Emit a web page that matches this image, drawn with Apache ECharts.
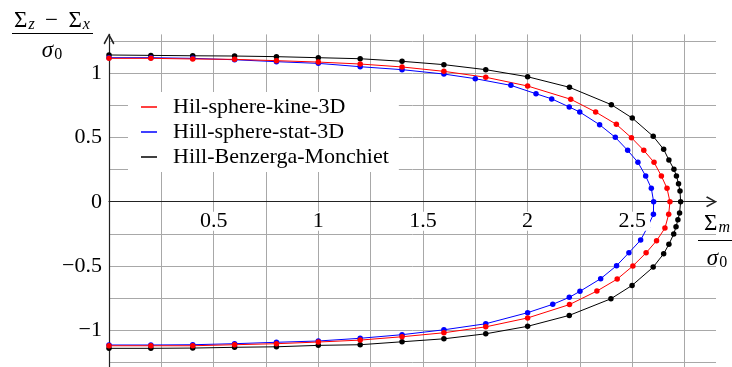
<!DOCTYPE html>
<html>
<head>
	<meta charset="utf-8"/>
	<title>Hill yield surfaces</title>
	<style>
		* {
			margin: 0;
			padding: 0;
		}
		html, body {
			background: #fff;
		}
		#main {
			width: 732px;
			height: 367px;
		}
	</style>
</head>
<body>

	<div id="main"></div>

	<script src="https://cdn.jsdelivr.net/npm/echarts@6/dist/echarts.min.js"></script>
	<script>
		// series names (legend order)
		var names = ['Hil-sphere-kine-3D', 'Hill-sphere-stat-3D', 'Hill-Benzerga-Monchiet'];

		// Hil-sphere-kine-3D (red)
		var kineX = [0, 0.2, 0.4, 0.6, 0.8, 1.0, 1.2, 1.4, 1.6, 1.8, 2.0, 2.206, 2.325, 2.424, 2.496, 2.555, 2.604, 2.639, 2.666, 2.68,
			2.674, 2.656, 2.616, 2.566, 2.503, 2.428, 2.331, 2.2, 2.0, 1.8, 1.6, 1.4, 1.2, 1.0, 0.8, 0.6, 0.4, 0.2, 0];
		var kineY = [1.114, 1.114, 1.109, 1.106, 1.096, 1.085, 1.070, 1.047, 1.013, 0.967, 0.899, 0.796, 0.697, 0.601, 0.497, 0.399, 0.306, 0.2, 0.104, 0,
			-0.098, -0.205, -0.303, -0.397, -0.499, -0.601, -0.694, -0.799, -0.903, -0.972, -1.018, -1.049, -1.075, -1.090, -1.103, -1.111, -1.119, -1.119, -1.119];

		// Hill-sphere-stat-3D (blue)
		var statX = [0, 0.2, 0.4, 0.6, 0.8, 1.0, 1.2, 1.4, 1.6, 1.75, 1.92, 2.04, 2.115, 2.199, 2.249, 2.344, 2.419, 2.478, 2.527, 2.564, 2.591, 2.602,
			2.601, 2.572, 2.54, 2.484, 2.425, 2.349, 2.25, 2.199, 2.12, 2.0, 1.8, 1.6, 1.4, 1.2, 1.0, 0.8, 0.6, 0.4, 0.2, 0];
		var statY = [1.119, 1.119, 1.114, 1.103, 1.088, 1.075, 1.049, 1.026, 0.992, 0.956, 0.904, 0.839, 0.799, 0.736, 0.697, 0.598, 0.5, 0.399, 0.306, 0.2, 0.104, 0,
			-0.098, -0.2, -0.298, -0.396, -0.497, -0.598, -0.696, -0.743, -0.797, -0.862, -0.948, -0.995, -1.033, -1.061, -1.082, -1.092, -1.103, -1.111, -1.113, -1.113];

		// Hill-Benzerga-Monchiet (black)
		var hbmX = [0, 0.2, 0.4, 0.6, 0.8, 1.0, 1.2, 1.4, 1.6, 1.8, 2.0, 2.2, 2.4, 2.5, 2.6, 2.65, 2.675, 2.699, 2.711, 2.721, 2.728, 2.731,
			2.726, 2.718, 2.709, 2.698, 2.675, 2.65, 2.6, 2.499, 2.398, 2.199, 2.0, 1.8, 1.6, 1.4, 1.2, 1.0, 0.8, 0.6, 0.4, 0.2, 0];
		var hbmY = [1.14, 1.137, 1.134, 1.132, 1.127, 1.119, 1.111, 1.091, 1.065, 1.026, 0.971, 0.889, 0.754, 0.65, 0.508, 0.407, 0.324, 0.252, 0.2, 0.14, 0.083, 0,
			-0.088, -0.14, -0.194, -0.251, -0.331, -0.404, -0.508, -0.65, -0.754, -0.883, -0.968, -1.026, -1.065, -1.088, -1.111, -1.116, -1.127, -1.131, -1.137, -1.139, -1.139];

		// axis ranges
		var xMin = 0, xMax = 2.9;
		var yMin = -1.5, yMax = 1.3;   // bottom part runs off the canvas like the original

		var gridTop = 34.4, gridBottom = -27.8;
		// distance from the grid's bottom edge up to y = 0, for the label-only x axis
		var gridH = 367 - gridTop - gridBottom;
		var zeroOffset = -gridH * (0 - yMin) / (yMax - yMin);

		var serif = '"Liberation Serif", "DejaVu Serif", serif';
		var fs = 22;
		var arrow = 'path://M5,0 L10,9 L8.8,10 L5,2.6 L1.2,10 L0,9 Z';

		function zip(xs, ys) {
			return xs.map(function (x, i) { return [x, ys[i]]; });
		}

		function halfLabel(v) {
			if (Math.abs(v * 2 - Math.round(v * 2)) > 1e-6) return '';
			return String(v).replace('-', '\u2212');
		}

		var myChart = echarts.init(document.getElementById('main'), null, { renderer: 'canvas' });

		function curve(name, xs, ys, color) {
			return {
				name: name,
				type: 'line',
				data: zip(xs, ys),
				symbol: 'circle',
				symbolSize: 5.5,
				showAllSymbol: true,
				clip: false,
				color: color,
				lineStyle: { color: color, width: 1 },
				itemStyle: { color: color },
				emphasis: { disabled: true }
			};
		}

		// a stacked fraction label: numerator / bar / denominator
		function fracText(x, y, text, rich) {
			return {
				type: 'text', x: x, y: y,
				style: { text: text, align: 'center', verticalAlign: 'middle', rich: rich }
			};
		}

		var numRich = {
			m: { fontFamily: serif, fontSize: 23, fill: '#000' },
			s: { fontFamily: serif, fontSize: 16, fontStyle: 'italic', fill: '#000', padding: [7, 0, 0, 1] }
		};
		var denRich = {
			i: { fontFamily: serif, fontSize: 23, fontStyle: 'italic', fill: '#000' },
			s: { fontFamily: serif, fontSize: 16, fill: '#000', padding: [7, 0, 0, 1] }
		};

		var option = {
			animation: false,
			backgroundColor: '#fff',
			grid: {
				left: 109,
				right: 16,
				top: gridTop,
				bottom: gridBottom,
				outerBoundsMode: 'none'
			},
			xAxis: [{
				type: 'value',
				min: xMin,
				max: xMax,
				interval: 0.25,
				axisLine: {
					onZero: true,
					symbol: ['none', arrow],
					symbolSize: [11, 11],
					symbolOffset: [0, -4.5],
					lineStyle: { color: '#222', width: 1.2 }
				},
				axisTick: { show: false },
				axisLabel: { show: false },
				splitLine: { show: true, showMaxLine: false, lineStyle: { color: '#a8a8a8', width: 1 } }
			}, {
				// labels only, with white boxes like the original
				type: 'value',
				position: 'bottom',
				offset: zeroOffset,
				min: xMin,
				max: xMax,
				interval: 0.5,
				z: 5,
				axisLine: { show: false, onZero: false },
				axisTick: { show: false },
				splitLine: { show: false },
				axisLabel: {
					showMinLabel: false,
					showMaxLabel: false,
					margin: 10,
					color: '#000',
					fontFamily: serif,
					fontSize: fs,
					lineHeight: 19,
					backgroundColor: '#fff',
					padding: [0, 4]
				}
			}],
			yAxis: {
				type: 'value',
				min: yMin,
				max: yMax,
				interval: 0.25,
				axisLine: {
					onZero: true,
					symbol: ['none', arrow],
					symbolSize: [11, 11],
					symbolOffset: [0, -4.5],
					lineStyle: { color: '#222', width: 1.2 }
				},
				axisTick: { show: false },
				axisLabel: {
					margin: 7,
					color: '#000',
					fontFamily: serif,
					fontSize: fs,
					formatter: function (v) {
						if (v < -1.1 || v > 1.2) return '';
						return halfLabel(v);
					}
				},
				splitLine: { show: true, showMaxLine: false, lineStyle: { color: '#a8a8a8', width: 1 } }
			},
			legend: {
				data: names,
				orient: 'vertical',
				left: 128,
				top: 92,
				backgroundColor: '#fff',
				padding: [4, 10, 4, 13],
				itemGap: 3,
				itemWidth: 16,
				itemHeight: 1.5,
				icon: 'rect',
				selectedMode: false,
				textStyle: { fontFamily: serif, fontSize: fs, color: '#000', padding: [0, 0, 0, 11] }
			},
			graphic: [
				// y title: (Σz − Σx) / σ0
				fracText(52, 21, '{m|Σ}{s|z}{m| \u2009−\u2009 Σ}{s|x}', numRich),
				{ type: 'line', shape: { x1: 12, y1: 33.5, x2: 93, y2: 33.5 }, style: { stroke: '#000', lineWidth: 1 } },
				fracText(52, 51, '{i|σ}{s|0}', denRich),
				// x title: Σm / σ0
				fracText(717, 224, '{m|Σ}{s|m}', numRich),
				{ type: 'line', shape: { x1: 698, y1: 240.5, x2: 732, y2: 240.5 }, style: { stroke: '#000', lineWidth: 1 } },
				fracText(717, 259, '{i|σ}{s|0}', denRich)
			],
			// black first so the red curve sits on top, as in the original
			series: [
				curve(names[2], hbmX, hbmY, '#000'),
				curve(names[1], statX, statY, '#0000ff'),
				curve(names[0], kineX, kineY, '#ff0000')
			]
		};

		myChart.setOption(option);
	</script>
</body>
</html>
